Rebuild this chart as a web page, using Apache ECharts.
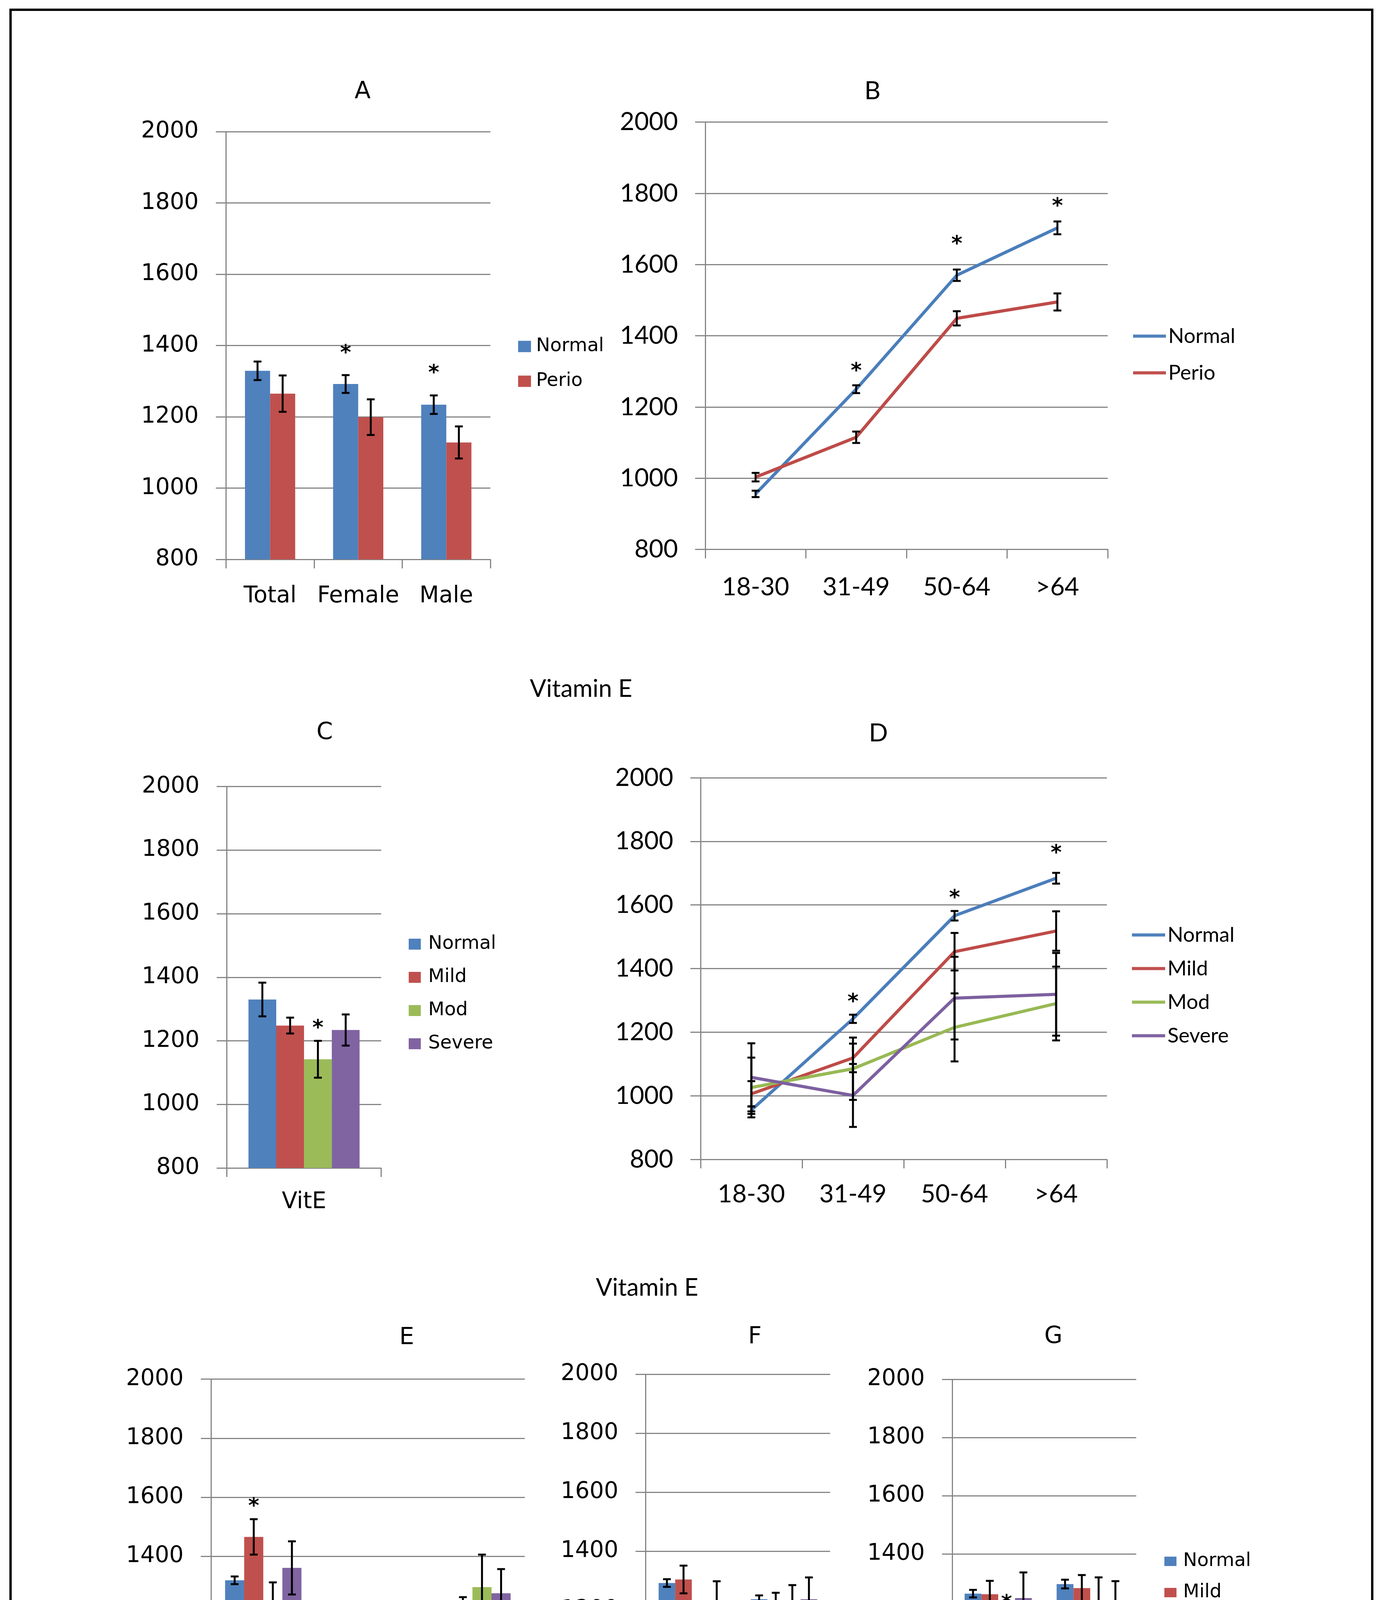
<!DOCTYPE html>
<html><head><meta charset="utf-8">
<script src="https://cdn.jsdelivr.net/npm/echarts@6/dist/echarts.min.js"></script>
<style>html,body{margin:0;padding:0;background:#fff}#c{width:3537px;height:4846px}</style>
</head><body><div id="c"></div>
<script>
// ---------- DATA ----------
var yTicks = [800, 1000, 1200, 1400, 1600, 1800, 2000];

var catsA = ['Total', 'Female', 'Male'];
var aNormal = [1329, 1292, 1234];
var aNormalErr = [26, 25, 26];
var aPerio = [1265, 1199, 1128];
var aPerioErr = [51, 50, 45];
var aStarNormal = [null, 1392, 1336];

var catsAge = ['18-30', '31-49', '50-64', '>64'];
var bNormal = [956, 1250, 1570, 1703];
var bNormalErr = [9, 11, 16, 18];
var bPerio = [1003, 1115, 1449, 1495];
var bPerioErr = [12, 16, 20, 24];
var bStarNormal = [null, 1314, 1670, 1777];

var catsC = ['VitE'];
var cNormal = [1330], cNormalErr = [53];
var cMild = [1248], cMildErr = [25];
var cMod = [1142], cModErr = [58];
var cSevere = [1234], cSevereErr = [49];
var cStarMod = [1255];

var dNormal = [955, 1242, 1566, 1684];
var dNormalErr = [12, 13, 15, 17];
var dMild = [1006, 1119, 1453, 1518];
var dMildErr = [40, 45, 59, 62];
var dMod = [1026, 1085, 1215, 1290];
var dModErr = [94, 98, 107, 116];
var dSevere = [1058, 1001, 1307, 1319];
var dSevereErr = [107, 99, 130, 130];
var dStarNormal = [null, 1310, 1637, 1778];

var catsE = ['White', 'Black', 'Hispanic'];
var eNormal = [1319, 962, 1115], eNormalErr = [13, 10, 10];
var eMild = [1466, 1102, 1214], eMildErr = [60, 45, 48];
var eMod = [1210, 980, 1296], eModErr = [102, 84, 110];
var eSevere = [1361, 931, 1275], eSevereErr = [90, 62, 82];
var eStarMild = [1586, 1201, null];

var catsF = ['Female', 'Male'];
var fNormal = [1292, 1237], fNormalErr = [13, 13];
var fMild = [1304, 1216], fMildErr = [47, 43];
var fMod = [1011, 1213], fModErr = [62, 72];
var fSevere = [1224, 1237], fSevereErr = [74, 74];
var fStarMod = [1157, null];

var catsG = ['Smoker', 'Non-Smoker'];
var gNormal = [1263, 1296], gNormalErr = [13, 15];
var gMild = [1261, 1282], gMildErr = [46, 45];
var gMod = [1112, 1220], gModErr = [88, 99];
var gSevere = [1248, 1220], gSevereErr = [88, 86];
var gStarMod = [1246, null];

// ---------- STYLE ----------
var DJ = 'DejaVu Sans', LT = 'Lato';
var BAR_COL = {Normal: '#4F81BD', Perio: '#C0504D', Mild: '#C0504D', Mod: '#9BBB59', Severe: '#8064A2'};
var LINE_COL = {Normal: '#4A7EBB', Perio: '#BE4B48', Mild: '#BE4B48', Mod: '#98B954', Severe: '#7D60A0'};
var GRID_COL = '#868686';
var STAR_DY = 14;

var option = {
  backgroundColor: '#ffffff', animation: false,
  grid: [], xAxis: [], yAxis: [], series: [], legend: [], graphic: []
};

function errSeries(gi, vals, errs, k, n, frac) {
  return {
    type: 'custom', xAxisIndex: gi, yAxisIndex: gi, z: 6, silent: true, clip: false,
    data: vals.map(function (v, i) { return [i, v, errs[i]]; }),
    renderItem: function (params, api) {
      var i = api.value(0), v = api.value(1), e = api.value(2);
      var c = api.coord([i, v]);
      var bw = api.size([1, 0])[0] * frac / n;
      var x = c[0] + (k - (n - 1) / 2) * bw;
      var yt = api.coord([i, v + e])[1], yb = api.coord([i, v - e])[1];
      var st = {stroke: '#000', lineWidth: 5};
      return {type: 'group', children: [
        {type: 'line', shape: {x1: x, y1: yt, x2: x, y2: yb}, style: st},
        {type: 'line', shape: {x1: x - 10, y1: yt, x2: x + 10, y2: yt}, style: st},
        {type: 'line', shape: {x1: x - 10, y1: yb, x2: x + 10, y2: yb}, style: st}
      ]};
    }
  };
}

function starSeries(gi, vals, k, n, frac) {
  var d = [];
  vals.forEach(function (v, i) { if (v != null) d.push([i, v]); });
  return {
    type: 'custom', xAxisIndex: gi, yAxisIndex: gi, z: 7, silent: true, clip: false,
    data: d,
    renderItem: function (params, api) {
      var i = api.value(0), v = api.value(1);
      var c = api.coord([i, v]);
      var bw = api.size([1, 0])[0] * frac / n;
      var x = c[0] + (k - (n - 1) / 2) * bw;
      return {type: 'text', style: {text: '*', x: x, y: c[1] + STAR_DY, align: 'center', verticalAlign: 'middle',
        fontSize: 54, fontWeight: 'bold', fontFamily: DJ, fill: '#000'}};
    }
  };
}

function addPanel(p) {
  var gi = option.grid.length;
  var font = p.font, fs = p.fontSize;
  option.grid.push({left: p.rect[0], top: p.rect[1], width: p.rect[2], height: p.rect[3], containLabel: false, outerBoundsMode: 'none'});
  option.xAxis.push({
    type: 'category', gridIndex: gi, data: p.cats, boundaryGap: true,
    axisLine: {show: true, onZero: false, lineStyle: {color: GRID_COL, width: 3}},
    axisTick: {show: true, length: 23, interval: 0, alignWithLabel: false, lineStyle: {color: GRID_COL, width: 3}},
    axisLabel: {interval: 0, margin: p.xMargin, rotate: p.rotate || 0, fontFamily: font, fontSize: fs, color: '#000'},
    splitLine: {show: false}
  });
  option.yAxis.push({
    type: 'value', gridIndex: gi, min: yTicks[0], max: yTicks[yTicks.length - 1], interval: 200,
    axisLine: {show: true, lineStyle: {color: GRID_COL, width: 3}},
    axisTick: {show: true, length: 26, lineStyle: {color: GRID_COL, width: 3}},
    axisLabel: {margin: 70, fontFamily: font, fontSize: fs, color: '#000',
      formatter: function (v) { return String(v); }},
    splitLine: {show: true, lineStyle: {color: GRID_COL, width: 3}}
  });
  var n = p.kind === 'bar' ? p.series.length : 1;
  var frac = p.kind === 'bar' ? (1 - p.gap) : 0;
  p.series.forEach(function (s, idx) {
    var k = p.kind === 'bar' ? idx : 0;
    if (p.kind === 'bar') {
      option.series.push({type: 'bar', name: s.name, xAxisIndex: gi, yAxisIndex: gi, data: s.data,
        barGap: '0%', barCategoryGap: Math.round(p.gap * 100) + '%', itemStyle: {color: BAR_COL[s.name]}, z: 2, silent: true});
    } else {
      option.series.push({type: 'line', name: s.name, xAxisIndex: gi, yAxisIndex: gi, data: s.data,
        symbol: 'none', showSymbol: false, lineStyle: {width: 8, color: LINE_COL[s.name]},
        itemStyle: {color: LINE_COL[s.name]}, z: 3, silent: true});
    }
    option.series.push(errSeries(gi, s.data, s.err, k, n, frac));
    if (s.star) option.series.push(starSeries(gi, s.star, k, n, frac));
  });
}

addPanel({kind: 'bar', rect: [578.5, 337, 676.5, 1095], cats: catsA, gap: 0.43, font: DJ, fontSize: 58, xMargin: 66,
  series: [{name: 'Normal', data: aNormal, err: aNormalErr, star: aStarNormal},
           {name: 'Perio', data: aPerio, err: aPerioErr}]});
addPanel({kind: 'line', rect: [1805, 312.6, 1030, 1094], cats: catsAge, font: LT, fontSize: 64, xMargin: 65,
  series: [{name: 'Normal', data: bNormal, err: bNormalErr, star: bStarNormal},
           {name: 'Perio', data: bPerio, err: bPerioErr}]});
addPanel({kind: 'bar', rect: [580.6, 2013.5, 395, 976.5], cats: catsC, gap: 0.28, font: DJ, fontSize: 58, xMargin: 59,
  series: [{name: 'Normal', data: cNormal, err: cNormalErr},
           {name: 'Mild', data: cMild, err: cMildErr},
           {name: 'Mod', data: cMod, err: cModErr, star: cStarMod},
           {name: 'Severe', data: cSevere, err: cSevereErr}]});
addPanel({kind: 'line', rect: [1793, 1991, 1040, 977], cats: catsAge, font: LT, fontSize: 64, xMargin: 57,
  series: [{name: 'Normal', data: dNormal, err: dNormalErr, star: dStarNormal},
           {name: 'Mild', data: dMild, err: dMildErr},
           {name: 'Mod', data: dMod, err: dModErr},
           {name: 'Severe', data: dSevere, err: dSevereErr}]});
addPanel({kind: 'bar', rect: [540, 3530.7, 803, 907.3], cats: catsE, gap: 0.27, font: DJ, fontSize: 58, xMargin: 50,
  series: [{name: 'Normal', data: eNormal, err: eNormalErr},
           {name: 'Mild', data: eMild, err: eMildErr, star: eStarMild},
           {name: 'Mod', data: eMod, err: eModErr},
           {name: 'Severe', data: eSevere, err: eSevereErr}]});
addPanel({kind: 'bar', rect: [1652.6, 3518, 472, 906], cats: catsF, gap: 0.28, font: DJ, fontSize: 58, xMargin: 50,
  series: [{name: 'Normal', data: fNormal, err: fNormalErr},
           {name: 'Mild', data: fMild, err: fMildErr},
           {name: 'Mod', data: fMod, err: fModErr, star: fStarMod},
           {name: 'Severe', data: fSevere, err: fSevereErr}]});
addPanel({kind: 'bar', rect: [2437, 3531, 471, 893.5], cats: catsG, gap: 0.27, font: DJ, fontSize: 58, xMargin: 68, rotate: 40,
  series: [{name: 'Normal', data: gNormal, err: gNormalErr},
           {name: 'Mild', data: gMild, err: gMildErr},
           {name: 'Mod', data: gMod, err: gModErr, star: gStarMod},
           {name: 'Severe', data: gSevere, err: gSevereErr}]});

function legend(names, left, top, w, h, gap, font, fs, pad) {
  return {orient: 'vertical', left: left, top: top, padding: 0, itemWidth: w, itemHeight: h, itemGap: gap,
    icon: 'rect', selectedMode: false, data: names,
    textStyle: {fontFamily: font, fontSize: fs, color: '#000', padding: [0, 0, 0, pad]}};
}
option.legend.push(legend(['Normal', 'Perio'], 1326, 863, 33, 29, 41, DJ, 48, 8));
option.legend.push(legend(['Normal', 'Perio'], 2900, 834, 84, 8, 41, LT, 53, 1));
option.legend.push(legend(['Normal', 'Mild', 'Mod', 'Severe'], 1046, 2393, 31, 28, 37, DJ, 48, 14));
option.legend.push(legend(['Normal', 'Mild', 'Mod', 'Severe'], 2897, 2367, 85, 8, 33, LT, 53, 1));
option.legend.push(legend(['Normal', 'Mild', 'Mod', 'Severe'], 2980, 3973, 31, 24, 32, DJ, 48, 12));

function txt(t, x, y, font, fs) {
  return {type: 'text', x: x, y: y, silent: true,
    style: {text: t, align: 'center', verticalAlign: 'middle', fontFamily: font, fontSize: fs, fill: '#000'}};
}
option.graphic = [
  {type: 'rect', shape: {x: 27, y: 25, width: 3485, height: 4790}, style: {fill: 'none', stroke: '#000', lineWidth: 6}, silent: true},
  txt('A', 928, 235, DJ, 60),
  txt('B', 2233, 233, LT, 64),
  txt('Vitamin E', 1487, 1764, LT, 62),
  txt('C', 831, 1876, DJ, 60),
  txt('D', 2248, 1877, LT, 64),
  txt('Vitamin E', 1656, 3297, LT, 62),
  txt('E', 1041, 3425, DJ, 60),
  txt('F', 1932, 3423, DJ, 60),
  txt('G', 2696, 3422, DJ, 60)
];

var chart = echarts.init(document.getElementById('c'), null, {renderer: 'canvas', width: 3537, height: 4846});
chart.setOption(option);
</script>
</body></html>
